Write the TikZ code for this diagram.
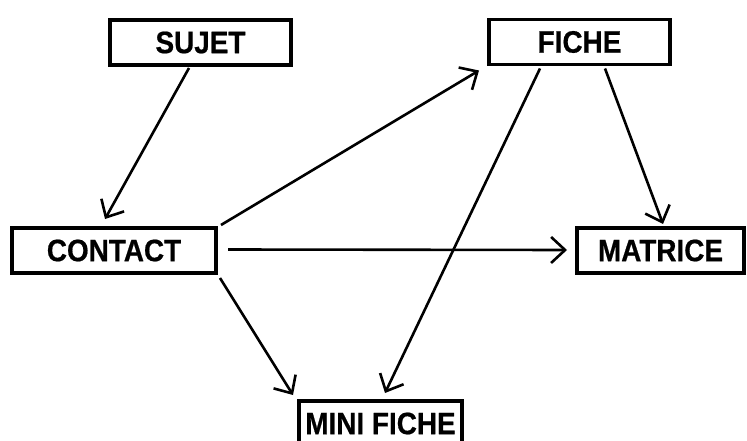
\documentclass[tikz,border=0pt]{standalone}
\usepackage{fontspec}
\setmainfont{Liberation Sans}
\newfontfamily\labelfont[FakeStretch=0.9, BoldFeatures={FakeBold=0.6}]{Liberation Sans}
\usetikzlibrary{arrows.meta,calc}

\tikzset{
  box/.style={draw, line width=3.8pt, rectangle, inner sep=0pt, outer sep=0pt,
    minimum height=45pt, font=\labelfont\bfseries\fontsize{31}{33}\selectfont},
  arr/.style={line width=2.6pt, -{Straight Barb[length=14pt, width=26pt, line width=2.6pt]}}
}

\begin{document}
\begin{tikzpicture}[x=1pt, y=-1pt]
  \useasboundingbox (0,0) rectangle (747,441);

  % boxes
  \node[box, minimum width=181pt] (sujet)   at (200.5, 42.5) {SUJET};
  \node[box, minimum width=181pt] (fiche)   at (579.5, 42)   {FICHE};
  \node[box, minimum width=204pt] (contact) at (114, 250.5)  {CONTACT};
  \node[box, minimum width=167pt] (matrice) at (660.5, 250.5) {MATRICE};
  \node[box, minimum width=163pt] (mini)    at (380.5, 423.5) {MINI FICHE};

  % links
  \draw[arr] ($(sujet.south)+(-11.5,3)$) -- ($(contact.north)+(-9,-9)$);
  \draw[arr] ($(contact.north east)+(5,-3)$) -- ($(fiche.south west)+(-10,6)$);
  \draw[arr] ($(contact.east)+(12,-1)$) -- ($(matrice.west)+(-10,-0.5)$);
  \draw[arr] ($(contact.south east)+(4,5)$) -- ($(mini.north west)+(-6,-6)$);
  \draw[arr] ($(fiche.south)+(-39.5,4)$) -- ($(mini.north)+(4.5,-8)$);
  \draw[arr] ($(fiche.south)+(25.5,4)$) -- ($(matrice.north)+(2.5,-4)$);
\end{tikzpicture}
\end{document}
